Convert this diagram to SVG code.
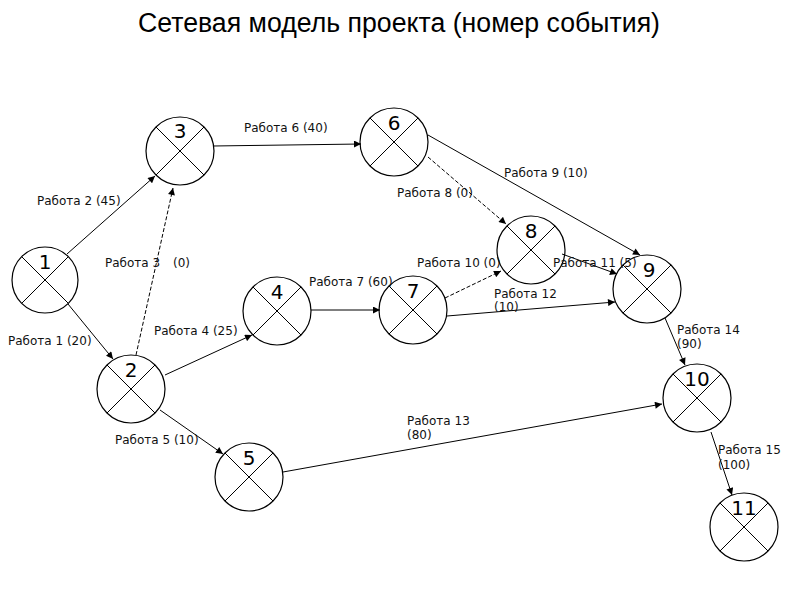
<svg xmlns="http://www.w3.org/2000/svg" width="800" height="600" viewBox="0 0 800 600">
<defs>
<style>
.n circle{fill:none;stroke:#000;stroke-width:1.2}
.n line{stroke:#000;stroke-width:1}
.n text{font-family:"DejaVu Sans",sans-serif;font-size:20px;text-anchor:middle;fill:#000}
.e line{stroke:#000;stroke-width:1;marker-end:url(#ah)}
.e .d{stroke-dasharray:4 2}
.lb{font-family:"DejaVu Sans",sans-serif;font-size:12px;fill:#111}
</style>
<marker id="ah" viewBox="0 0 10 10" refX="10" refY="5" markerWidth="8" markerHeight="7" markerUnits="userSpaceOnUse" orient="auto">
<path d="M0,0 L10,5 L0,10 z" fill="#000"/>
</marker>
</defs>
<rect width="800" height="600" fill="#fff"/>
<text x="399" y="32" font-family="Liberation Sans, Arial, sans-serif" font-size="27" text-anchor="middle" textLength="522" lengthAdjust="spacingAndGlyphs" fill="#000">Сетевая модель проекта (номер события)</text>

<g id="connectors" class="e">
<line x1="67" y1="254" x2="155" y2="176"/>
<line class="d" x1="136" y1="355" x2="173" y2="188"/>
<line x1="68" y1="304" x2="113" y2="359"/>
<line x1="213" y1="146" x2="361" y2="144"/>
<line class="d" x1="428" y1="157" x2="506" y2="224"/>
<line x1="428" y1="135" x2="640" y2="255"/>
<line x1="165" y1="375" x2="252" y2="335"/>
<line x1="160" y1="410" x2="223" y2="454"/>
<line x1="311" y1="310" x2="380" y2="310"/>
<line class="d" x1="445" y1="298" x2="501" y2="271"/>
<line x1="562" y1="254" x2="617" y2="274"/>
<line x1="447" y1="316" x2="615" y2="302"/>
<line x1="665" y1="318" x2="685" y2="365"/>
<line x1="283" y1="472" x2="662" y2="404"/>
<line x1="711" y1="432" x2="732" y2="495"/>
</g>

<g id="node1" class="n" transform="translate(45,280)"><circle r="33"/><line x1="-23" y1="-23" x2="23" y2="23"/><line x1="23" y1="-23" x2="-23" y2="23"/><text y="-11">1</text></g>
<g id="node2" class="n" transform="translate(131,389)"><circle r="34"/><line x1="-24" y1="-24" x2="24" y2="24"/><line x1="24" y1="-24" x2="-24" y2="24"/><text y="-12">2</text></g>
<g id="node3" class="n" transform="translate(180,151)"><circle r="34"/><line x1="-24" y1="-24" x2="24" y2="24"/><line x1="24" y1="-24" x2="-24" y2="24"/><text y="-13">3</text></g>
<g id="node4" class="n" transform="translate(277,311)"><circle r="34"/><line x1="-24" y1="-24" x2="24" y2="24"/><line x1="24" y1="-24" x2="-24" y2="24"/><text y="-12">4</text></g>
<g id="node5" class="n" transform="translate(249,477)"><circle r="34"/><line x1="-24" y1="-24" x2="24" y2="24"/><line x1="24" y1="-24" x2="-24" y2="24"/><text y="-12">5</text></g>
<g id="node6" class="n" transform="translate(394,142)"><circle r="34"/><line x1="-24" y1="-24" x2="24" y2="24"/><line x1="24" y1="-24" x2="-24" y2="24"/><text y="-12">6</text></g>
<g id="node7" class="n" transform="translate(413,310)"><circle r="34"/><line x1="-24" y1="-24" x2="24" y2="24"/><line x1="24" y1="-24" x2="-24" y2="24"/><text y="-12">7</text></g>
<g id="node8" class="n" transform="translate(531,250)"><circle r="34"/><line x1="-24" y1="-24" x2="24" y2="24"/><line x1="24" y1="-24" x2="-24" y2="24"/><text y="-12">8</text></g>
<g id="node9" class="n" transform="translate(647,289)"><circle r="34"/><line x1="-24" y1="-24" x2="24" y2="24"/><line x1="24" y1="-24" x2="-24" y2="24"/><text x="2" y="-12">9</text></g>
<g id="node10" class="n" transform="translate(697,398)"><circle r="34"/><line x1="-24" y1="-24" x2="24" y2="24"/><line x1="24" y1="-24" x2="-24" y2="24"/><text y="-12">10</text></g>
<g id="node11" class="n" transform="translate(744,527)"><circle r="34"/><line x1="-24" y1="-24" x2="24" y2="24"/><line x1="24" y1="-24" x2="-24" y2="24"/><text y="-12">11</text></g>

<g id="labels" class="lb">
<text x="37" y="205">Работа 2 (45)</text>
<text x="105" y="267">Работа 3<tspan x="173">(0)</tspan></text>
<text x="8" y="345">Работа 1 (20)</text>
<text x="244" y="132">Работа 6 (40)</text>
<text x="397" y="197">Работа 8 (0)</text>
<text x="504" y="177">Работа 9 (10)</text>
<text x="417" y="267">Работа 10 (0)</text>
<text x="553" y="267">Работа 11 (5)</text>
<text x="494" y="298">Работа 12</text>
<text x="494" y="311">(10)</text>
<text x="309" y="286">Работа 7 (60)</text>
<text x="154" y="335">Работа 4 (25)</text>
<text x="115" y="444">Работа 5 (10)</text>
<text x="407" y="425">Работа 13</text>
<text x="407" y="439">(80)</text>
<text x="677" y="334">Работа 14</text>
<text x="677" y="348">(90)</text>
<text x="718" y="454">Работа 15</text>
<text x="718" y="469">(100)</text>
</g>
</svg>
